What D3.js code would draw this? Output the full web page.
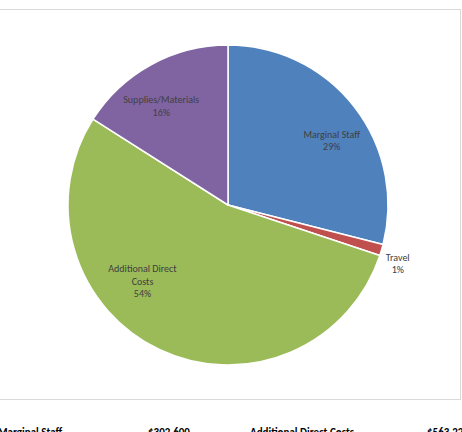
<!DOCTYPE html>
<html>
<head>
<meta charset="utf-8">
<script src="https://cdn.jsdelivr.net/npm/d3@7"></script>
<style>
  body { margin: 0; background: #fff; }
  svg { display: block; }
</style>
</head>
<body>
<div id="viz"></div>
<script>
// budget categories
const categories = ["Marginal Staff", "Travel", "Additional Direct Costs", "Supplies/Materials"];
const values = [302600, 12000, 563220, 167000];
const labelLines = [["Marginal Staff"], ["Travel"], ["Additional Direct", "Costs"], ["Supplies/Materials"]];
const colors = ["#4f81bd", "#c0504d", "#9bbb59", "#8064a2"];

// table under the chart (cut off at the bottom)
const tableLabels = ["Marginal Staff", "Additional Direct Costs"];
const tableValues = ["$302,600", "$563,22"];

const width = 462, height = 432;
const cx = 228, cy = 205, radius = 160;

// label placement: radius used for the anchor and a small nudge, like excel's best fit
const labelLayout = [
  {r: 120, dx: 9, dy: 9},
  {r: 180, dx: -3, dy: 8},
  {r: 120, dx: -34, dy: -32},
  {r: 120, dx: -9, dy: 6}
];

const svg = d3.select("#viz").append("svg")
  .attr("width", width)
  .attr("height", height);

// chart area frame
svg.append("rect")
  .attr("x", -1)
  .attr("y", 9.5)
  .attr("width", 461.5)
  .attr("height", 390)
  .attr("fill", "#fff")
  .attr("stroke", "#d9d9d9")
  .attr("stroke-width", 1);

const data = categories.map((c, i) => ({name: c, value: values[i], idx: i}));
const total = d3.sum(values);

const pie = d3.pie().sort(null).value(d => d.value);
const arcs = pie(data);

const arc = d3.arc().innerRadius(0).outerRadius(radius);

const g = svg.append("g").attr("transform", `translate(${cx}, ${cy})`);

g.selectAll("path")
  .data(arcs)
  .join("path")
  .attr("d", arc)
  .attr("fill", d => colors[d.data.idx])
  .attr("stroke", "#fff")
  .attr("stroke-width", 1.5)
  .attr("stroke-linejoin", "round");

const lineH = 12.5;
const labels = g.append("g")
  .selectAll("text")
  .data(arcs)
  .join("text")
  .attr("transform", d => {
    const L = labelLayout[d.data.idx];
    const c = d3.arc().innerRadius(L.r).outerRadius(L.r).centroid(d);
    return `translate(${c[0] + L.dx}, ${c[1] + L.dy})`;
  })
  .attr("text-anchor", "middle")
  .style("font-family", "Carlito, 'Liberation Sans', Arial, sans-serif")
  .style("font-size", "10px")
  .style("fill", "#404040");

labels.each(function(d) {
  const lines = labelLines[d.data.idx].concat([Math.round(d.data.value / total * 100) + "%"]);
  const t = d3.select(this);
  const start = -(lines.length - 1) * lineH / 2;
  lines.forEach((s, j) => {
    t.append("tspan")
      .attr("x", 0)
      .attr("y", start + j * lineH)
      .attr("dy", "0.35em")
      .text(s);
  });
});

// bottom table row
const tableX = [[-2, 148], [250, 427]];
tableLabels.forEach((s, i) => {
  svg.append("text")
    .attr("x", tableX[i][0])
    .attr("y", 436)
    .style("font-family", "Carlito, 'Liberation Sans', Arial, sans-serif")
    .style("font-size", "11px")
    .style("font-weight", "bold")
    .style("fill", "#000")
    .text(s);
  svg.append("text")
    .attr("x", tableX[i][1])
    .attr("y", 436)
    .style("font-family", "Carlito, 'Liberation Sans', Arial, sans-serif")
    .style("font-size", "11px")
    .style("font-weight", "bold")
    .style("fill", "#000")
    .text(tableValues[i]);
});
</script>
</body>
</html>
